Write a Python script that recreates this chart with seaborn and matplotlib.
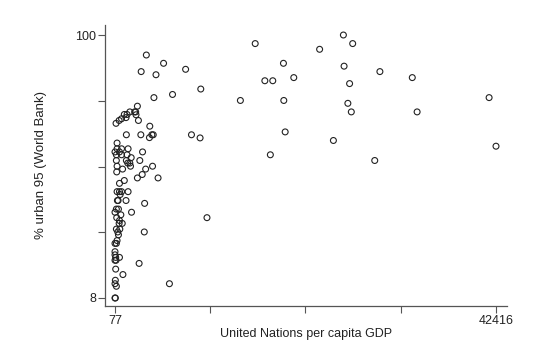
import matplotlib
matplotlib.use("Agg")
import matplotlib.pyplot as plt
import seaborn as sns
import pandas as pd

# United Nations per capita GDP
gdp = [
    25457, 26490, 15657, 22815, 3560, 5474, 18796, 25533, 7924, 2986,
    29514, 4632, 19944, 33113, 16729, 17609, 26146, 9609, 6470, 4403,
    41649, 14011, 18834, 25954, 26337, 33649, 18987, 8575, 9532, 24347,
    42416, 17341, 28940, 10298, 6125, 2757, 3331, 3369, 4862, 4250,
    3484, 3101, 2565, 2833, 3139, 2948, 3943, 4326, 4173, 3905,
    2680, 2565, 2374, 2259, 2412, 1723, 1417, 1111, 1302, 804,
    536, 192, 1340, 1914, 957,
    307, 77, 307, 804, 1532, 575, 230, 804, 1417, 1876,
    230, 1340, 1493, 1723, 1800, 307, 919, 268, 1111, 575,
    307, 575, 804, 1532, 345, 422, 1302, 651, 77, 230,
    460, 728, 268, 575, 881, 536, 230, 613, 383, 460,
    77, 230, 307, 77, 77, 154, 192, 575, 77, 154,
    115, 77, 230, 115, 77,
]
# % urban 95 (World Bank)
urban = [
    100.0, 97.0, 97.0, 95.0, 93.0, 90.1, 90.1, 89.1, 88.0, 87.2,
    87.2, 86.1, 85.1, 85.1, 84.0, 84.0, 83.0, 81.1, 79.2, 78.1,
    78.1, 77.1, 77.1, 76.1, 73.1, 73.1, 66.1, 65.1, 64.0, 63.1,
    61.1, 58.1, 56.1, 36.1, 13.0, 20.1, 31.1, 41.1, 50.0, 54.1,
    53.1, 51.2, 50.0, 56.1, 59.1, 65.1, 68.1, 65.1, 65.1, 64.1,
    70.1, 75.1, 73.1, 73.1, 72.1, 73.1, 72.2, 72.2, 71.1, 70.7,
    70.1, 69.1, 65.1, 38.0, 16.2,
    62.2, 59.1, 60.2, 60.2, 60.2, 59.1, 58.1, 58.1, 58.1, 57.1,
    56.1, 56.1, 55.2, 55.2, 54.1, 54.1, 53.1, 52.1, 49.1, 48.1,
    45.2, 45.2, 45.2, 45.2, 42.1, 42.1, 42.1, 44.2, 38.0, 39.1,
    39.1, 37.1, 36.1, 35.1, 34.1, 34.1, 32.1, 32.1, 31.1, 30.1,
    27.1, 27.1, 28.1, 24.2, 23.1, 22.2, 21.2, 22.2, 21.2, 18.1,
    14.2, 13.0, 12.1, 8.0, 8.0,
]

x_ticks = [77, 10662, 21246, 31831, 42416]
x_ticklabels = ["77", "", "", "", "42416"]
y_ticks = [8, 31, 54, 77, 100]
y_ticklabels = ["8", "", "", "", "100"]

df = pd.DataFrame({"gdp": gdp, "urban": urban})

sns.set_theme(style="ticks")
plt.rcParams["font.family"] = ["Liberation Sans", "DejaVu Sans"]

fig = plt.figure(figsize=(5.4, 3.52), dpi=100)
ax = fig.add_axes([105 / 540, 1 - 306 / 352, 402 / 540, 281 / 352])

sns.scatterplot(data=df, x="gdp", y="urban", ax=ax, marker="o",
                s=18, facecolor="none", edgecolor="#222222", linewidth=0.8)

ax.set_xlim(-1034, 43638)
ax.set_ylim(5.2, 103.5)
ax.set_xticks(x_ticks)
ax.set_xticklabels(x_ticklabels)
ax.set_yticks(y_ticks)
ax.set_yticklabels(y_ticklabels)
ax.tick_params(axis="both", length=5, width=0.8, color="#555555",
               labelsize=9, labelcolor="#222222", pad=1.5)
for s in ["top", "right"]:
    ax.spines[s].set_visible(False)
for s in ["left", "bottom"]:
    ax.spines[s].set_color("#555555")
    ax.spines[s].set_linewidth(0.9)

ax.set_xlabel("United Nations per capita GDP", fontsize=9, color="#222222", labelpad=1)
ax.set_ylabel("% urban 95 (World Bank)", fontsize=9.5, color="#222222", labelpad=20)

fig.savefig("out.png", dpi=100, facecolor="white")
